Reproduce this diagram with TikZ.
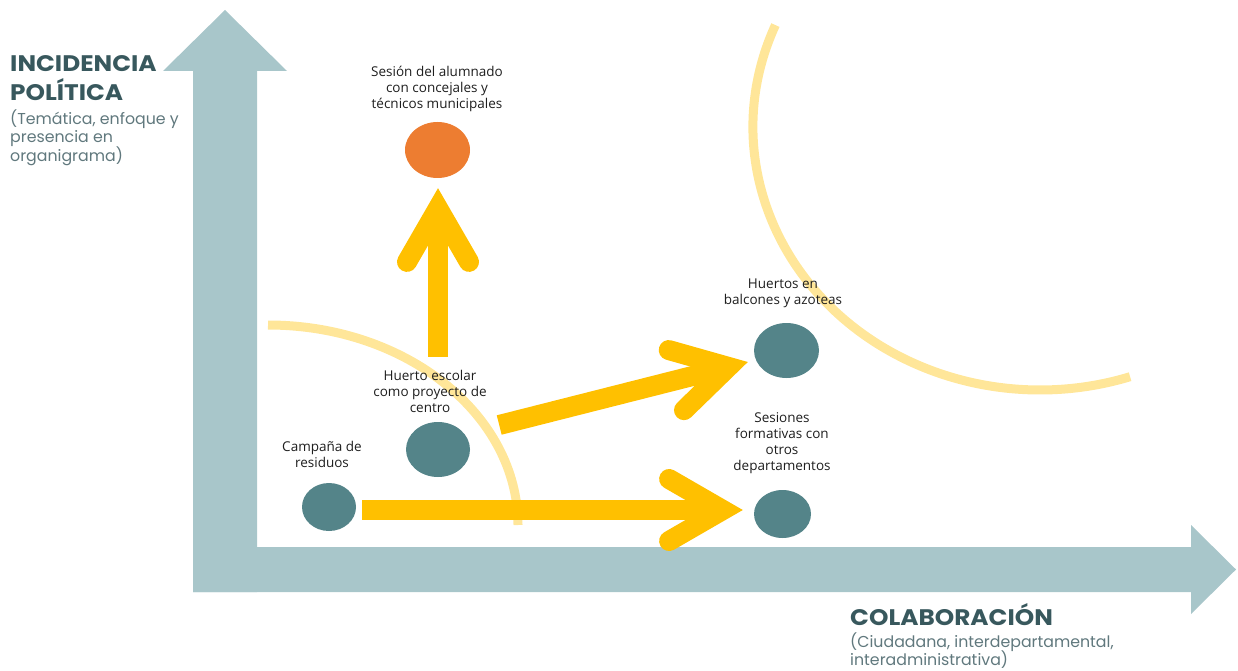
\documentclass[tikz,border=0pt]{standalone}
\usepackage{fontspec}
\setmainfont{Open Sans}
\newfontfamily\titlefont{Poppins}[FakeStretch=1.1]
\newfontfamily\subfont{Poppins}
\usetikzlibrary{calc,shapes.geometric}
\definecolor{axisc}{RGB}{168,198,202}
\definecolor{tealc}{RGB}{84,132,137}
\definecolor{orangec}{RGB}{237,125,49}
\definecolor{yellowc}{RGB}{255,192,0}
\definecolor{arcc}{RGB}{255,230,153}
\definecolor{titlec}{RGB}{56,88,93}
\definecolor{subc}{RGB}{96,120,125}
\definecolor{lblc}{RGB}{30,30,30}
\newcommand\fatarrow[2]{%
  \coordinate (fv) at ($(#2)!20pt!(#1)$);
  \draw[yshaft] (#1) -- (fv);
  \draw[yhead] ($(fv)!62pt!30:(#1)$) -- (fv) -- ($(fv)!62pt!-30:(#1)$);}
\begin{document}
\begin{tikzpicture}[x=1pt,y=-1pt,
  dot/.style={ellipse, fill=#1, draw=none, inner sep=0pt},
  yshaft/.style={draw=yellowc, line width=20pt, line cap=butt},
  yhead/.style={draw=yellowc, line width=20pt, line cap=round, line join=miter},
  arcline/.style={draw=arcc, line width=9pt},
  lbl/.style={font=\fontsize{13.5}{16}\selectfont, align=center, inner sep=0pt, anchor=north, text=lblc},
  ttl/.style={font=\titlefont\bfseries\fontsize{22.5}{28}\selectfont, text=titlec, inner sep=0pt, anchor=base west},
  sub/.style={font=\subfont\fontsize{15.8}{18}\selectfont, text=subc, inner sep=0pt, anchor=base west}]
\useasboundingbox (0,0) rectangle (1238,671);
% axes
\fill[axisc] (193,592) -- (193,71) -- (163,71) -- (225,10) -- (287,71) -- (257,71) -- (257,592) -- cycle;
\fill[axisc] (193,547) -- (1191,547) -- (1191,525) -- (1236,569.5) -- (1191,614) -- (1191,592) -- (193,592) -- cycle;
% arcs
\draw[arcline] (268,325) arc[start angle=270, end angle=360, x radius=250, y radius=200];
\draw[arcline] (775.4,25.1) arc[start angle=202.8, end angle=71.7, x radius=287, y radius=263];
% circles
\node[dot=orangec, minimum width=65pt, minimum height=56pt] (sesion) at (437.5,150) {};
\node[dot=tealc, minimum width=64pt, minimum height=55pt] (huerto) at (438,449.5) {};
\node[dot=tealc, minimum width=54pt, minimum height=48pt] (campana) at (329,507) {};
\node[dot=tealc, minimum width=65pt, minimum height=55pt] (balcon) at (786.5,350.5) {};
\node[dot=tealc, minimum width=57pt, minimum height=48pt] (sesiones) at (782.5,514) {};
% yellow arrows
\coordinate (u0) at ($(huerto.north)+(0,-65)$);
\coordinate (u1) at ($(sesion.south)+(0.5,10)$);
\coordinate (d0) at ($(huerto.east)+(29,-24.5)$);
\coordinate (d1) at ($(balcon.west)+(-6,11.5)$);
\coordinate (h0) at ($(campana.east)+(6,3)$);
\coordinate (h1) at ($(sesiones.west)+(-11,-4)$);
\fatarrow{u0}{u1}
\fatarrow{d0}{d1}
\fatarrow{h0}{h1}
% labels
\node[lbl] (lsesion) at (437,66) {Sesión del alumnado\\con concejales y\\técnicos municipales};
\node[lbl] (lhuerto) at (430,370.5) {Huerto escolar\\como proyecto de\\centro};
\node[lbl] (lcampana) at (322,441.5) {Campaña de\\residuos};
\node[lbl] (lbalcon) at (783,278.5) {Huertos en\\balcones y azoteas};
\node[lbl] (lsesiones) at (782,412.5) {Sesiones\\formativas con\\otros\\departamentos};
% titles
\node[ttl] (t1) at (10,72) {INCIDENCIA};
\node[ttl] (t2) at (10,101) {POLÍTICA};
\node[sub] (s1) at (10,125) {(Temática, enfoque y};
\node[sub] (s2) at (10,143) {presencia en};
\node[sub] (s3) at (10,161) {organigrama)};
\node[ttl] (c1) at (850,625) {COLABORACIÓN};
\node[sub] (c2) at (850,647) {(Ciudadana, interdepartamental,};
\node[sub] (c3) at (850,665) {interadministrativa)};
\end{tikzpicture}
\end{document}
